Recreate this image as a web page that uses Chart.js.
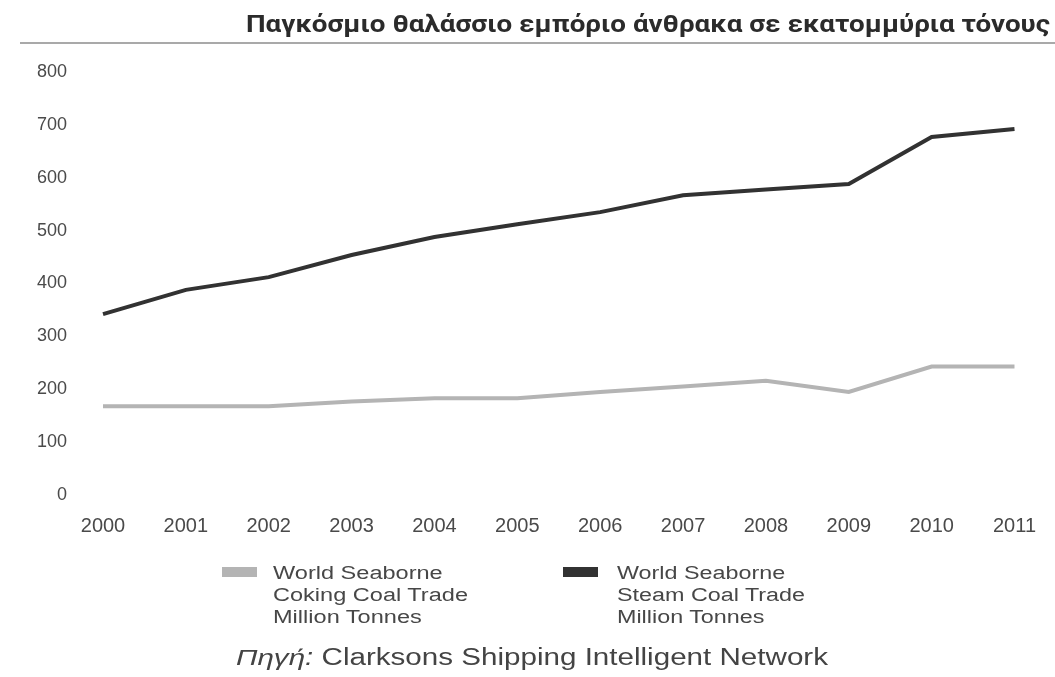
<!DOCTYPE html>
<html>
<head>
<meta charset="utf-8">
<script src="https://cdn.jsdelivr.net/npm/chart.js@4/dist/chart.umd.min.js"></script>
<style>
    html, body { margin: 0; padding: 0; background: #fff; }
    #wrap { position: relative; width: 1055px; height: 677px; overflow: hidden; font-family: "Liberation Sans", Arial, sans-serif; color: #474747; }
    #myChart { position: absolute; left: 0; top: 0; }
    .fit { position: absolute; white-space: nowrap; transform-origin: 0 0; }
    #title { font-family: Roboto, "Liberation Sans", sans-serif; font-weight: 700; font-size: 24px; line-height: 1; color: #2b2b2b; }
    #rule { position: absolute; left: 20px; top: 42px; width: 1035px; height: 2px; background: #a9a9a9; }
    .swatch { position: absolute; width: 35px; height: 10px; }
    .legtext { font-size: 18px; line-height: 22px; }
    #source { font-size: 23px; line-height: 1; color: #444; }
</style>
</head>
<body>
<div id="wrap">
    <canvas id="myChart" width="1055" height="677"></canvas>
    <div id="title" class="fit">Παγκόσμιο θαλάσσιο εμπόριο άνθρακα σε εκατομμύρια τόνους</div>
    <div id="rule"></div>
    <div id="legend"></div>
    <div id="source" class="fit"><i>Πηγή:</i> Clarksons Shipping Intelligent Network</div>
</div>
<script>
"use strict";

const YEARS = ['2000', '2001', '2002', '2003', '2004', '2005', '2006', '2007', '2008', '2009', '2010', '2011'];
const COKING = [168, 168, 168, 177, 183, 183, 195, 205, 216, 195, 243, 243];
const STEAM = [342, 388, 412, 454, 488, 512, 535, 567, 578, 588, 677, 692];
const COKING_LABEL = ['World Seaborne', 'Coking Coal Trade', 'Million Tonnes'];
const STEAM_LABEL = ['World Seaborne', 'Steam Coal Trade', 'Million Tonnes'];

// stretch a text block horizontally so it spans the given width
function fit(el, left, top, width) {
    el.style.left = left + 'px';
    el.style.top = top + 'px';
    var w = el.getBoundingClientRect().width;
    el.style.transform = 'scaleX(' + (width / w) + ')';
}

var data = {
    labels: YEARS,
    datasets: [
        {
            label: COKING_LABEL,
            data: COKING,
            borderColor: '#b4b4b4',
            backgroundColor: '#b4b4b4',
            borderWidth: 4,
            pointRadius: 0,
            tension: 0
        },
        {
            label: STEAM_LABEL,
            data: STEAM,
            borderColor: '#323232',
            backgroundColor: '#323232',
            borderWidth: 4,
            pointRadius: 0,
            tension: 0
        }]
};

var coalChart = new Chart(document.getElementById('myChart'), {
    type: 'line',
    data: data,
    options: {
        responsive: false,
        animation: false,
        layout: { padding: { left: 0, top: 72, right: 40, bottom: 122 } },
        plugins: { legend: { display: false }, tooltip: { enabled: false } },
        scales: {
            x: {
                grid: { display: false, drawTicks: false },
                border: { display: false },
                ticks: { color: '#4a4a4a', padding: 19, maxRotation: 0, font: { family: 'Liberation Sans', size: 20 } },
                afterFit: function (scale) { scale.height = 60; }
            },
            y: {
                min: 0,
                max: 800,
                grid: { display: false, drawTicks: false },
                border: { display: false },
                ticks: { stepSize: 100, color: '#4a4a4a', padding: 36, font: { family: 'Liberation Sans', size: 18 } },
                afterFit: function (scale) { scale.width = 103; }
            }
        }
    }
});

// legend built from the datasets, one multi-line entry per series
var legendPos = [{ box: 222, text: 273, width: 195 }, { box: 563, text: 617, width: 188 }];
var legend = document.getElementById('legend');
coalChart.data.datasets.forEach(function (ds, i) {
    var sw = document.createElement('div');
    sw.className = 'swatch';
    sw.style.left = legendPos[i].box + 'px';
    sw.style.top = '567px';
    sw.style.background = ds.borderColor;
    legend.appendChild(sw);

    var tx = document.createElement('div');
    tx.className = 'fit legtext';
    tx.innerHTML = ds.label.join('<br>');
    legend.appendChild(tx);
    fit(tx, legendPos[i].text, 562, legendPos[i].width * 1.0);
});

fit(document.getElementById('title'), 246, 12, 804);
fit(document.getElementById('source'), 236, 646, 592);
</script>
</body>
</html>
